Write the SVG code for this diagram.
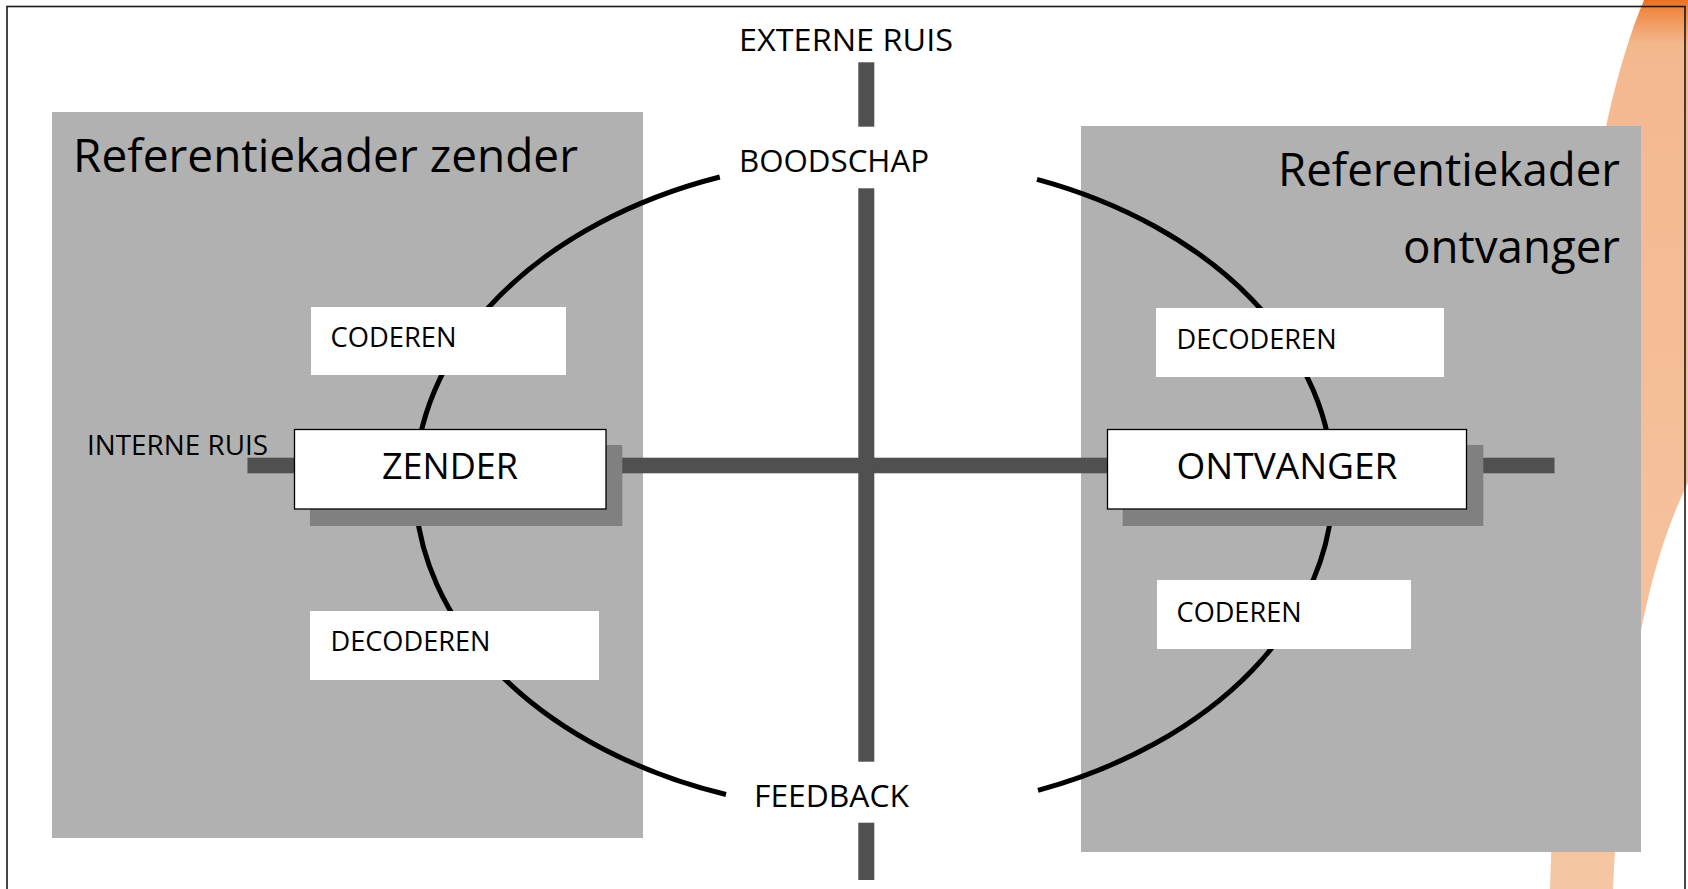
<svg xmlns="http://www.w3.org/2000/svg" width="1688" height="889" viewBox="0 0 1688 889">
  <defs>
    <linearGradient id="swooshGrad" x1="0" y1="0" x2="0" y2="889" gradientUnits="userSpaceOnUse">
      <stop offset="0" stop-color="#ec6f1e"/>
      <stop offset="0.012" stop-color="#f08a45"/>
      <stop offset="0.05" stop-color="#f4b88f"/>
      <stop offset="1" stop-color="#f5c6a3"/>
    </linearGradient>
    <style>
      .frame { fill: #b1b1b1; }
      .bar { fill: #505050; }
      .loop { fill: none; stroke: #000000; stroke-width: 5; }
      .step { fill: #ffffff; }
      .shadow { fill: #808080; }
      .actor { fill: #ffffff; stroke: #000000; stroke-width: 1.3; }
      .t { font-family: "Open Sans", "Noto Sans", "DejaVu Sans", sans-serif; fill: #000000; }
      .title { font-size: 45px; }
      .big { font-size: 37px; }
      .mid { font-size: 31px; }
      .small { font-size: 27px; }
    </style>
  </defs>

  <rect width="1688" height="889" fill="#ffffff"/>

  <path id="swoosh" d="M 1644 0 L 1700 0 L 1700 460 C 1660 530, 1625 640, 1613 889 L 1550 889 C 1560 600, 1560 200, 1644 0 Z" fill="url(#swooshGrad)"/>

  <rect id="border" x="7" y="6.5" width="1678" height="900" fill="none" stroke="#1a1a1a" stroke-width="1.6"/>

  <g id="frame-zender">
    <rect class="frame" x="52" y="112" width="591" height="726"/>
    <text class="t title" x="73" y="172" textLength="505" lengthAdjust="spacingAndGlyphs">Referentiekader zender</text>
  </g>

  <g id="frame-ontvanger">
    <rect class="frame" x="1081" y="126" width="560" height="726"/>
    <text class="t title" x="1620" y="186" text-anchor="end" textLength="342" lengthAdjust="spacingAndGlyphs">Referentiekader</text>
    <text class="t title" x="1620" y="263" text-anchor="end" textLength="217" lengthAdjust="spacingAndGlyphs">ontvanger</text>
  </g>

  <g id="connectors">
    <path class="loop" d="M 719.8 177 A 459 327 0 0 0 726 794.5"/>
    <path class="loop" d="M 1037 179.3 A 459 327 0 0 1 1038 790.4"/>
    <rect class="bar" x="247.5" y="457.7" width="1307" height="15.6"/>
    <rect class="bar" x="858.3" y="62.3" width="16" height="64.4"/>
    <rect class="bar" x="858.3" y="188.3" width="16" height="573.4"/>
    <rect class="bar" x="858.3" y="822.7" width="16" height="57.3"/>
  </g>

  <g id="label-externe-ruis">
    <text class="t mid" x="739" y="51" textLength="214" lengthAdjust="spacingAndGlyphs">EXTERNE RUIS</text>
  </g>
  <g id="label-boodschap">
    <text class="t mid" x="739" y="172" textLength="190" lengthAdjust="spacingAndGlyphs">BOODSCHAP</text>
  </g>
  <g id="label-feedback">
    <text class="t mid" x="754" y="807" textLength="155" lengthAdjust="spacingAndGlyphs">FEEDBACK</text>
  </g>
  <g id="label-interne-ruis">
    <text class="t small" x="87" y="455" textLength="181" lengthAdjust="spacingAndGlyphs">INTERNE RUIS</text>
  </g>

  <g id="coderen-zender">
    <rect class="step" x="311" y="307" width="255" height="68"/>
    <text class="t small" x="330.5" y="347" textLength="126" lengthAdjust="spacingAndGlyphs">CODEREN</text>
  </g>
  <g id="decoderen-zender">
    <rect class="step" x="310" y="611" width="289" height="69"/>
    <text class="t small" x="330.5" y="651" textLength="160" lengthAdjust="spacingAndGlyphs">DECODEREN</text>
  </g>
  <g id="decoderen-ontvanger">
    <rect class="step" x="1156" y="308" width="288" height="69"/>
    <text class="t small" x="1176.6" y="349" textLength="160" lengthAdjust="spacingAndGlyphs">DECODEREN</text>
  </g>
  <g id="coderen-ontvanger">
    <rect class="step" x="1157" y="580" width="254" height="69"/>
    <text class="t small" x="1176.6" y="622" textLength="125" lengthAdjust="spacingAndGlyphs">CODEREN</text>
  </g>

  <g id="zender">
    <rect class="shadow" x="310" y="445" width="312.3" height="81"/>
    <rect class="actor" x="294.5" y="429.5" width="311.5" height="79.5"/>
    <text class="t big" x="450" y="479" text-anchor="middle" textLength="136" lengthAdjust="spacingAndGlyphs">ZENDER</text>
  </g>
  <g id="ontvanger">
    <rect class="shadow" x="1122.7" y="445" width="360.6" height="81"/>
    <rect class="actor" x="1107.5" y="429.5" width="359" height="79.5"/>
    <text class="t big" x="1287" y="479" text-anchor="middle" textLength="221" lengthAdjust="spacingAndGlyphs">ONTVANGER</text>
  </g>
</svg>
